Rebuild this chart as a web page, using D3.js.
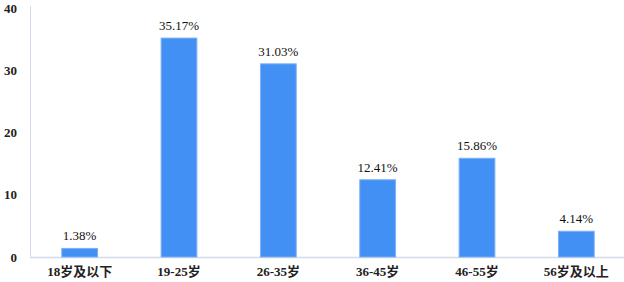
<!DOCTYPE html>
<html>
<head>
<meta charset="utf-8">
<script src="https://cdn.jsdelivr.net/npm/d3@7"></script>
<style>
body { margin: 0; background: #fff; }
svg { display: block; }
</style>
</head>
<body>
<div id="chart"></div>
<script>
// data
var categories = ['18岁及以下', '19-25岁', '26-35岁', '36-45岁', '46-55岁', '56岁及以上'];
var values = [1.38, 35.17, 31.03, 12.41, 15.86, 4.14];
var yTicks = [0, 10, 20, 30, 40];

var width = 624;
var height = 282;
var padding = {'top': 8, 'right': -2, 'bottom': 25, 'left': 30};

var font = 'Liberation Serif, Noto Sans CJK SC';

var svg = d3.select('#chart')
    .append('svg')
    .attr('width', width)
    .attr('height', height);

var x = d3.scaleBand()
    .domain(categories)
    .range([padding.left, width - padding.right])
    .paddingInner(0.64)
    .paddingOuter(0.32);

var y = d3.scaleLinear()
    .domain([0, 40])
    .range([height - padding.bottom, padding.top]);

//axis lines
svg.append('line')
    .attr('x1', padding.left + 0.5)
    .attr('x2', padding.left + 0.5)
    .attr('y1', y(40) - 2)
    .attr('y2', y(0))
    .style('stroke', '#d3dbeb')
    .style('stroke-width', 1);

svg.append('line')
    .attr('x1', padding.left)
    .attr('x2', width)
    .attr('y1', y(0) + 0.5)
    .attr('y2', y(0) + 0.5)
    .style('stroke', '#d3dbeb')
    .style('stroke-width', 1.5);

//y tick labels
svg.append('g')
    .selectAll('text')
    .data(yTicks)
    .enter()
    .append('text')
    .attr('x', 17)
    .attr('y', function(d){ return y(d); })
    .attr('dy', '0.35em')
    .attr('text-anchor', 'end')
    .attr('font-family', font)
    .attr('font-size', 13)
    .attr('font-weight', 'bold')
    .attr('fill', '#222')
    .text(function(d){ return d; });

//bars
svg.append('g')
    .selectAll('rect')
    .data(values)
    .enter()
    .append('rect')
    .attr('x', function(d, i){ return x(categories[i]); })
    .attr('y', function(d){ return y(d); })
    .attr('width', x.bandwidth())
    .attr('height', function(d){ return y(0) - y(d); })
    .style('fill', '#4290f3')
    .style('stroke', '#7db1f5')
    .style('stroke-width', 1);

//value labels
svg.append('g')
    .selectAll('text')
    .data(values)
    .enter()
    .append('text')
    .attr('x', function(d, i){ return x(categories[i]) + x.bandwidth() / 2; })
    .attr('y', function(d){ return y(d) - 8; })
    .attr('text-anchor', 'middle')
    .attr('font-family', font)
    .attr('font-size', 13)
    .attr('fill', '#111')
    .text(function(d){ return d.toFixed(2) + '%'; });

//category labels
svg.append('g')
    .selectAll('text')
    .data(categories)
    .enter()
    .append('text')
    .attr('x', function(d){ return x(d) + x.bandwidth() / 2; })
    .attr('y', y(0) + 19)
    .attr('text-anchor', 'middle')
    .attr('font-family', font)
    .attr('font-size', 13)
    .attr('font-weight', 'bold')
    .attr('fill', '#222')
    .text(function(d){ return d; });
</script>
</body>
</html>
